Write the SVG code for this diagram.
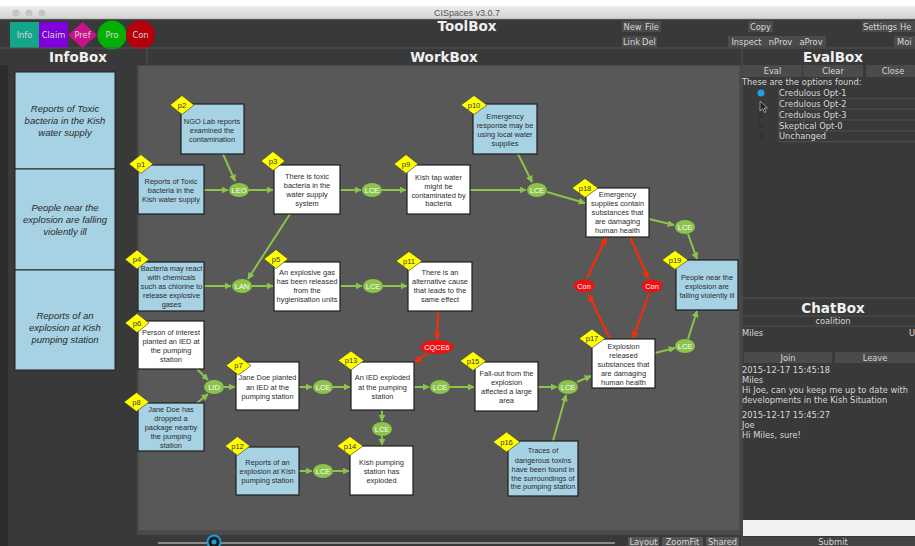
<svg xmlns="http://www.w3.org/2000/svg" width="915" height="546" viewBox="0 0 915 546">
<defs>
<linearGradient id="tb" x1="0" y1="0" x2="0" y2="1"><stop offset="0" stop-color="#ededed"/><stop offset="1" stop-color="#d2d2d2"/></linearGradient>
<marker id="ag" viewBox="0 0 10 10" refX="9" refY="5" markerWidth="7" markerHeight="7" markerUnits="userSpaceOnUse" orient="auto"><path d="M0,0 L10,5 L0,10 z" fill="#8cc34a"/></marker>
<marker id="ar" viewBox="0 0 10 10" refX="9" refY="5" markerWidth="7" markerHeight="7" markerUnits="userSpaceOnUse" orient="auto"><path d="M0,0 L10,5 L0,10 z" fill="#ff2a00"/></marker>
</defs>
<style>
.ui{font-family:"DejaVu Sans",sans-serif;font-size:8.3px;fill:#d8d8d8}
.uic{font-family:"DejaVu Sans",sans-serif;font-size:8.3px;fill:#d8d8d8;text-anchor:middle}
.hdr{font-family:"DejaVu Sans",sans-serif;font-weight:bold;font-size:13.5px;fill:#f0f0f0;text-anchor:middle}
.btn{fill:#4b4b4b}
.info{fill:#a6d2e4;stroke:#1e1e1e;stroke-width:1.2}
.claim{fill:#ffffff;stroke:#1e1e1e;stroke-width:1.2}
.t{font-family:"Liberation Sans",Arial,sans-serif;font-size:7.4px;fill:#2b2b2b;text-anchor:middle}
.tag{fill:#ffff00;stroke:#444;stroke-width:0.7}
.tt{font-family:"Liberation Sans",Arial,sans-serif;font-size:7.6px;fill:#333;text-anchor:middle}
.pro{fill:#8cc34a}
.con{fill:#ee1111}
.et{font-family:"Liberation Sans",Arial,sans-serif;font-size:7.4px;fill:#ffffff;text-anchor:middle}
.g{stroke:#8cc34a;stroke-width:2;fill:none;marker-end:url(#ag)}
.r{stroke:#ff2a00;stroke-width:2;fill:none;marker-end:url(#ar)}
.ib{fill:#a6d2e4;stroke:#222;stroke-width:1}
.it{font-family:"Liberation Sans",Arial,sans-serif;font-style:italic;font-size:9.5px;fill:#2a2a2a;text-anchor:middle}
.opt{fill:none;stroke:#555;stroke-width:0.8}
</style>

<!-- background -->
<rect x="0" y="0" width="915" height="546" fill="#393939"/>
<rect x="0" y="0" width="915" height="6" fill="#ffffff"/>
<rect x="0" y="6" width="915" height="13" fill="url(#tb)"/>
<line x1="0" y1="19" x2="915" y2="19" stroke="#9a9a9a" stroke-width="0.6"/>
<circle cx="16" cy="13" r="3.5" fill="#c4c4c4"/>
<circle cx="29" cy="13" r="3.5" fill="#c4c4c4"/>
<circle cx="42" cy="13" r="3.5" fill="#c4c4c4"/>
<text x="467" y="16" font-family="Liberation Sans, Arial, sans-serif" font-size="9" fill="#555" text-anchor="middle">CISpaces v3.0.7</text>

<!-- palette -->
<g id="palette">
<rect x="10" y="22" width="29" height="26" fill="#14a688"/>
<text x="24.5" y="38" class="uic" fill="#e8f4ee">Info</text>
<rect x="39" y="22" width="29" height="26" fill="#7e00da"/>
<text x="53.5" y="38" class="uic">Claim</text>
<polygon points="68,35 82.5,22 97,35 82.5,48" fill="#c8128a"/>
<text x="82.5" y="38" class="uic">Pref</text>
<circle cx="112" cy="35" r="14.5" fill="#02b002"/>
<text x="112" y="38" class="uic">Pro</text>
<circle cx="140.5" cy="35" r="14.5" fill="#b5000c"/>
<text x="140.5" y="38" class="uic">Con</text>
</g>

<!-- toolbox -->
<text x="467" y="31" class="hdr">ToolBox</text>
<g id="toolbuttons">
<rect x="622" y="21" width="21" height="11" class="btn"/><text x="632.5" y="29.5" class="uic">New</text>
<rect x="643" y="21" width="18" height="11" class="btn"/><text x="652" y="29.5" class="uic">File</text>
<rect x="622" y="36" width="19" height="11" class="btn"/><text x="631.5" y="44.5" class="uic">Link</text>
<rect x="641" y="36" width="16" height="11" class="btn"/><text x="649" y="44.5" class="uic">Del</text>
<rect x="748" y="21" width="25" height="11" class="btn"/><text x="760.5" y="29.5" class="uic">Copy</text>
<rect x="728" y="36" width="37" height="11" class="btn"/><text x="746.5" y="44.5" class="uic">Inspect</text>
<rect x="765" y="36" width="31" height="11" class="btn"/><text x="780.5" y="44.5" class="uic">nProv</text>
<rect x="796" y="36" width="30" height="11" class="btn"/><text x="811" y="44.5" class="uic">aProv</text>
<rect x="862" y="21" width="36" height="11" class="btn"/><text x="880" y="29.5" class="uic">Settings</text>
<rect x="898" y="21" width="17" height="11" class="btn"/><text x="900" y="29.5" class="ui">He</text>
<rect x="894" y="36" width="21" height="11" class="btn"/><text x="897" y="44.5" class="ui">Moi</text>
</g>
<line x1="0" y1="48" x2="915" y2="48" stroke="#555" stroke-width="1"/>
<line x1="147" y1="48" x2="147" y2="65" stroke="#555" stroke-width="1"/>
<line x1="742" y1="48" x2="742" y2="546" stroke="#555" stroke-width="1"/>

<!-- InfoBox -->
<text x="78" y="62" class="hdr">InfoBox</text>
<rect x="0" y="65" width="8" height="481" fill="#2c2c2c"/>
<g id="info1"><rect x="15" y="72" width="100" height="97" class="ib"/>
<text class="it" x="65" y="112">Reports of Toxic</text><text class="it" x="65" y="124">bacteria in the Kish</text><text class="it" x="65" y="136">water supply</text></g>
<g id="info2"><rect x="15" y="169" width="100" height="101" class="ib"/>
<text class="it" x="65" y="211">People near the</text><text class="it" x="65" y="223">explosion are falling</text><text class="it" x="65" y="235">violently ill</text></g>
<g id="info3"><rect x="15" y="270" width="100" height="100" class="ib"/>
<text class="it" x="65" y="319">Reports of an</text><text class="it" x="65" y="331">explosion at Kish</text><text class="it" x="65" y="343">pumping station</text></g>

<!-- WorkBox -->
<text x="444" y="62" class="hdr">WorkBox</text>
<rect x="137" y="65" width="604" height="470" fill="#4a4a4a"/>
<rect x="139" y="66" width="600" height="464" fill="#585858"/>
<line x1="158" y1="543" x2="615" y2="543" stroke="#8a8a8a" stroke-width="2"/>
<circle cx="214" cy="542" r="6.5" fill="#1a1a1a" stroke="#1aa0d8" stroke-width="2"/>
<circle cx="214" cy="542" r="2.5" fill="#1aa0d8"/>
<rect x="628" y="537" width="31" height="9" fill="#555"/><text x="643.5" y="545" class="uic">Layout</text>
<rect x="662" y="537" width="41" height="9" fill="#555"/><text x="682.5" y="545" class="uic">ZoomFit</text>
<rect x="706" y="537" width="33" height="9" fill="#555"/><text x="722.5" y="545" class="uic">Shared</text>

<!-- connectors -->
<g id="connectors">
<line class="g" x1="204" y1="190" x2="228" y2="190"/>
<line class="g" x1="223" y1="154" x2="235" y2="181"/>
<line class="g" x1="249" y1="190" x2="273" y2="190"/>
<line class="g" x1="340" y1="190" x2="361" y2="190"/>
<line class="g" x1="382" y1="190" x2="406" y2="190"/>
<line class="g" x1="470" y1="190" x2="526" y2="190"/>
<line class="g" x1="518" y1="154" x2="532" y2="182"/>
<line class="g" x1="547" y1="192" x2="585" y2="203"/>
<line class="g" x1="649" y1="219" x2="674" y2="225"/>
<line class="g" x1="688" y1="234" x2="697" y2="259"/>
<line class="g" x1="290" y1="214" x2="248" y2="279"/>
<line class="g" x1="204" y1="286" x2="231" y2="286"/>
<line class="g" x1="252" y1="286" x2="273" y2="286"/>
<line class="g" x1="340" y1="286" x2="362" y2="286"/>
<line class="g" x1="383" y1="286" x2="407" y2="286"/>
<line class="r" x1="438" y1="311" x2="437" y2="339"/>
<line class="r" x1="428" y1="353" x2="415" y2="362"/>
<line class="g" x1="197" y1="369" x2="208" y2="380"/>
<line class="g" x1="197" y1="403" x2="208" y2="394"/>
<line class="g" x1="224" y1="387" x2="235" y2="387"/>
<line class="g" x1="299" y1="387" x2="312" y2="387"/>
<line class="g" x1="333" y1="387" x2="350" y2="387"/>
<line class="g" x1="414" y1="387" x2="429" y2="387"/>
<line class="g" x1="450" y1="387" x2="474" y2="387"/>
<line class="g" x1="538" y1="387" x2="557" y2="387"/>
<line class="g" x1="577" y1="382" x2="591" y2="376"/>
<line class="g" x1="553" y1="441" x2="566" y2="395"/>
<line class="g" x1="382" y1="410" x2="382" y2="421"/>
<line class="g" x1="382" y1="436" x2="382" y2="445"/>
<line class="g" x1="299" y1="471" x2="312" y2="471"/>
<line class="g" x1="333" y1="471" x2="349" y2="471"/>
<line class="g" x1="655" y1="353" x2="675" y2="348"/>
<line class="g" x1="688" y1="339" x2="697" y2="311"/>
<line class="r" x1="610" y1="339" x2="589" y2="295"/>
<line class="r" x1="587" y1="278" x2="606" y2="238"/>
<line class="r" x1="630" y1="237" x2="648" y2="278"/>
<line class="r" x1="649" y1="294" x2="633" y2="338"/>
</g>

<!-- inference nodes -->
<g id="LEO"><ellipse cx="239" cy="190" rx="10" ry="7" class="pro"/><text x="239" y="192.7" class="et">LEO</text></g>
<g id="LCE1"><ellipse cx="372" cy="190" rx="10" ry="7" class="pro"/><text x="372" y="192.7" class="et">LCE</text></g>
<g id="LCE2"><ellipse cx="537" cy="190" rx="10" ry="7" class="pro"/><text x="537" y="192.7" class="et">LCE</text></g>
<g id="LCE3"><ellipse cx="685" cy="227" rx="10" ry="7" class="pro"/><text x="685" y="229.7" class="et">LCE</text></g>
<g id="LAN"><ellipse cx="242" cy="286" rx="10" ry="7" class="pro"/><text x="242" y="288.7" class="et">LAN</text></g>
<g id="LCE4"><ellipse cx="373" cy="286" rx="10" ry="7" class="pro"/><text x="373" y="288.7" class="et">LCE</text></g>
<g id="LID"><ellipse cx="214" cy="387" rx="10" ry="7" class="pro"/><text x="214" y="389.7" class="et">LID</text></g>
<g id="LCE5"><ellipse cx="323" cy="387" rx="10" ry="7" class="pro"/><text x="323" y="389.7" class="et">LCE</text></g>
<g id="LCE6"><ellipse cx="440" cy="387" rx="10" ry="7" class="pro"/><text x="440" y="389.7" class="et">LCE</text></g>
<g id="LCE7"><ellipse cx="568" cy="387" rx="10" ry="7" class="pro"/><text x="568" y="389.7" class="et">LCE</text></g>
<g id="LCE8"><ellipse cx="685" cy="346" rx="10" ry="7" class="pro"/><text x="685" y="348.7" class="et">LCE</text></g>
<g id="LCE9"><ellipse cx="382" cy="429" rx="10" ry="7" class="pro"/><text x="382" y="431.7" class="et">LCE</text></g>
<g id="LCE10"><ellipse cx="323" cy="471" rx="10" ry="7" class="pro"/><text x="323" y="473.7" class="et">LCE</text></g>
<g id="Con1"><ellipse cx="584" cy="286" rx="10.5" ry="6.5" class="con"/><text x="584" y="288.7" class="et">Con</text></g>
<g id="Con2"><ellipse cx="652" cy="286" rx="10.5" ry="6.5" class="con"/><text x="652" y="288.7" class="et">Con</text></g>
<g id="CQCE6"><ellipse cx="437" cy="347" rx="16.5" ry="7" class="con"/><text x="437" y="349.7" class="et">CQCE6</text></g>

<!-- proposition nodes -->
<g id="p1"><rect x="138" y="165" width="66" height="49" class="info"/>
<text class="t" x="171" y="183.5">Reports of Toxic</text><text class="t" x="171" y="192.5">bacteria in the</text><text class="t" x="171" y="201.5">Kish water supply</text>
<polygon class="tag" points="129,164 141,154.5 153,164 141,173.5"/><text class="tt" x="141" y="166.7">p1</text></g>

<g id="p2"><rect x="181" y="104" width="63" height="50" class="info"/>
<text class="t" x="212" y="124">NGO Lab reports</text><text class="t" x="212" y="133">examined the</text><text class="t" x="212" y="142">contamination</text>
<polygon class="tag" points="170,105 182,95.5 194,105 182,114.5"/><text class="tt" x="182" y="107.7">p2</text></g>

<g id="p3"><rect x="274" y="165" width="66" height="49" class="claim"/>
<text class="t" x="307" y="179">There is toxic</text><text class="t" x="307" y="188">bacteria in the</text><text class="t" x="307" y="197">water supply</text><text class="t" x="307" y="206">system</text>
<polygon class="tag" points="261,161 273,151.5 285,161 273,170.5"/><text class="tt" x="273" y="163.7">p3</text></g>

<g id="p9"><rect x="407" y="165" width="63" height="49" class="claim"/>
<text class="t" x="438.5" y="179.5">Kish tap water</text><text class="t" x="438.5" y="188.5">might be</text><text class="t" x="438.5" y="197.5">contaminated by</text><text class="t" x="438.5" y="205.5">bacteria</text>
<polygon class="tag" points="394,164 406,154.5 418,164 406,173.5"/><text class="tt" x="406" y="166.7">p9</text></g>

<g id="p10"><rect x="473" y="104" width="64" height="50" class="info"/>
<text class="t" x="505" y="119">Emergency</text><text class="t" x="505" y="128">response may be</text><text class="t" x="505" y="137">using local water</text><text class="t" x="505" y="146">supplies</text>
<polygon class="tag" points="461,105 474,95.5 487,105 474,114.5"/><text class="tt" x="474" y="107.7">p10</text></g>

<g id="p18"><rect x="586" y="188" width="63" height="49" class="claim"/>
<text class="t" x="617.5" y="197">Emergency</text><text class="t" x="617.5" y="206">supplies  contain</text><text class="t" x="617.5" y="215">substances that</text><text class="t" x="617.5" y="224">are damaging</text><text class="t" x="617.5" y="232.5">human health</text>
<polygon class="tag" points="572,188 585,178.5 598,188 585,197.5"/><text class="tt" x="585" y="190.7">p18</text></g>

<g id="p19"><rect x="676" y="260" width="62" height="50" class="info"/>
<text class="t" x="707" y="280">People near the</text><text class="t" x="707" y="289">explosion are</text><text class="t" x="707" y="298">falling violently ill</text>
<polygon class="tag" points="662,260 675,250.5 688,260 675,269.5"/><text class="tt" x="675" y="262.7">p19</text></g>

<g id="p4"><rect x="138" y="262" width="66" height="49" class="info"/>
<text class="t" x="171.5" y="271">Bacteria may react</text><text class="t" x="171.5" y="280">with chemicals</text><text class="t" x="171.5" y="289">such as chlorine to</text><text class="t" x="171.5" y="298">release explosive</text><text class="t" x="171.5" y="307">gases</text>
<polygon class="tag" points="125,259.5 137,250 149,259.5 137,269"/><text class="tt" x="137" y="262.2">p4</text></g>

<g id="p5"><rect x="274" y="262" width="66" height="49" class="claim"/>
<text class="t" x="307" y="275">An explosive gas</text><text class="t" x="307" y="284">has been released</text><text class="t" x="307" y="293">from the</text><text class="t" x="307" y="302">hygienisation units</text>
<polygon class="tag" points="264,259 276,249.5 288,259 276,268.5"/><text class="tt" x="276" y="261.7">p5</text></g>

<g id="p11"><rect x="408" y="262" width="64" height="49" class="claim"/>
<text class="t" x="440" y="275">There is an</text><text class="t" x="440" y="284">alternative cause</text><text class="t" x="440" y="293">that leads to the</text><text class="t" x="440" y="302">same effect</text>
<polygon class="tag" points="396,261 409,251.5 422,261 409,270.5"/><text class="tt" x="409" y="263.7">p11</text></g>

<g id="p6"><rect x="138" y="321" width="66" height="48" class="claim"/>
<text class="t" x="171" y="335">Person of interest</text><text class="t" x="171" y="344">planted an IED at</text><text class="t" x="171" y="353">the pumping</text><text class="t" x="171" y="362">station</text>
<polygon class="tag" points="125,323 137,313.5 149,323 137,332.5"/><text class="tt" x="137" y="325.7">p6</text></g>

<g id="p7"><rect x="236" y="362" width="63" height="48" class="claim"/>
<text class="t" x="267.5" y="380">Jane Doe planted</text><text class="t" x="267.5" y="390">an IED at the</text><text class="t" x="267.5" y="399">pumping station</text>
<polygon class="tag" points="226,365.5 238.5,356 251,365.5 238.5,375"/><text class="tt" x="238.5" y="368.2">p7</text></g>

<g id="p13"><rect x="351" y="362" width="63" height="48" class="claim"/>
<text class="t" x="382.5" y="380">An IED exploded</text><text class="t" x="382.5" y="390">at the pumping</text><text class="t" x="382.5" y="399">station</text>
<polygon class="tag" points="338,360.5 351,351 364,360.5 351,370"/><text class="tt" x="351" y="363.2">p13</text></g>

<g id="p15"><rect x="475" y="362" width="63" height="49" class="claim"/>
<text class="t" x="506.5" y="376">Fall-out from the</text><text class="t" x="506.5" y="385">explosion</text><text class="t" x="506.5" y="394">affected a large</text><text class="t" x="506.5" y="403">area</text>
<polygon class="tag" points="460,361 473,351.5 486,361 473,370.5"/><text class="tt" x="473" y="363.7">p15</text></g>

<g id="p17"><rect x="592" y="339" width="63" height="49" class="claim"/>
<text class="t" x="623.5" y="349">Explosion</text><text class="t" x="623.5" y="358">released</text><text class="t" x="623.5" y="367">substances that</text><text class="t" x="623.5" y="376">are damaging</text><text class="t" x="623.5" y="384.5">human health</text>
<polygon class="tag" points="579,338.5 592,329 605,338.5 592,348"/><text class="tt" x="592" y="341.2">p17</text></g>

<g id="p8"><rect x="138" y="403" width="66" height="48" class="info"/>
<text class="t" x="171" y="412">Jane Doe has</text><text class="t" x="171" y="421">dropped a</text><text class="t" x="171" y="430">package nearby</text><text class="t" x="171" y="439">the pumping</text><text class="t" x="171" y="448">station</text>
<polygon class="tag" points="124,402 136.5,392.5 149,402 136.5,411.5"/><text class="tt" x="136.5" y="404.7">p8</text></g>

<g id="p12"><rect x="236" y="447" width="63" height="48" class="info"/>
<text class="t" x="267.5" y="465">Reports of an</text><text class="t" x="267.5" y="474">explosion at Kish</text><text class="t" x="267.5" y="483">pumping station</text>
<polygon class="tag" points="225,446 237.5,436.5 250,446 237.5,455.5"/><text class="tt" x="237.5" y="448.7">p12</text></g>

<g id="p14"><rect x="350" y="446" width="63" height="49" class="claim"/>
<text class="t" x="381.5" y="465">Kish pumping</text><text class="t" x="381.5" y="474">station has</text><text class="t" x="381.5" y="483">exploded</text>
<polygon class="tag" points="337,446 350,436.5 363,446 350,455.5"/><text class="tt" x="350" y="448.7">p14</text></g>

<g id="p16"><rect x="508" y="441" width="70" height="55" class="info"/>
<text class="t" x="543" y="453">Traces of</text><text class="t" x="543" y="462.5">dangerous toxins</text><text class="t" x="543" y="471.5">have been found in</text><text class="t" x="543" y="480.5">the surroundings of</text><text class="t" x="543" y="489">the pumping station</text>
<polygon class="tag" points="493,442 506.5,432 520,442 506.5,452"/><text class="tt" x="506.5" y="444.7">p16</text></g>

<!-- EvalBox -->
<g id="evalbox">
<text x="833" y="62" class="hdr">EvalBox</text>
<rect x="743" y="65" width="59" height="12" class="btn"/><text x="772.5" y="74" class="uic">Eval</text>
<rect x="803" y="65" width="60" height="12" class="btn"/><text x="833" y="74" class="uic">Clear</text>
<rect x="866" y="65" width="49" height="12" class="btn"/><text x="893" y="74" class="uic">Close</text>
<text x="742" y="85" class="ui">These are the options found:</text>
<circle cx="761" cy="93" r="3.5" fill="#1ea0e8"/>
<circle cx="761" cy="104" r="4" fill="#333" stroke="#3c3c3c"/>
<circle cx="761" cy="115" r="4" fill="#333" stroke="#3c3c3c"/>
<circle cx="761" cy="125.5" r="4" fill="#333" stroke="#3c3c3c"/>
<circle cx="761" cy="136" r="4" fill="#333" stroke="#3c3c3c"/>
<path class="opt" d="M779,88 V142 M779,98.3 H915 M779,109 H915 M779,120 H915 M779,131 H915 M779,141.7 H915"/>
<text x="779" y="96" class="ui">Credulous Opt-1</text>
<text x="779" y="107" class="ui">Credulous Opt-2</text>
<text x="779" y="117.7" class="ui">Credulous Opt-3</text>
<text x="779" y="128.5" class="ui">Skeptical Opt-0</text>
<text x="779" y="139" class="ui">Unchanged</text>
<path d="M760,101 L760,111 L762.5,108.5 L764.5,112.5 L766,111.8 L764.2,108 L767.5,108 Z" fill="#222" stroke="#ddd" stroke-width="0.6"/>
</g>

<!-- ChatBox -->
<g id="chatbox">
<line x1="742" y1="298" x2="915" y2="298" stroke="#555" stroke-width="1"/>
<text x="833" y="313" class="hdr">ChatBox</text>
<line x1="742" y1="316" x2="915" y2="316" stroke="#555" stroke-width="0.8"/>
<text x="833" y="324" class="uic">coalition</text>
<line x1="742" y1="326" x2="915" y2="326" stroke="#555" stroke-width="0.8"/>
<text x="742" y="336" class="ui">Miles</text>
<text x="909" y="336" class="ui">U</text>
<rect x="744" y="352" width="88" height="11" class="btn"/><text x="788" y="360.5" class="uic">Join</text>
<rect x="835" y="352" width="80" height="11" class="btn"/><text x="875" y="360.5" class="uic">Leave</text>
<text x="742" y="373" class="ui">2015-12-17 15:45:18</text>
<text x="742" y="383" class="ui">Miles</text>
<text x="742" y="393" class="ui">Hi Joe, can you keep me up to date with</text>
<text x="742" y="403" class="ui">developments in the Kish Situation</text>
<text x="742" y="418" class="ui">2015-12-17 15:45:27</text>
<text x="742" y="428" class="ui">Joe</text>
<text x="742" y="438" class="ui">Hi Miles, sure!</text>
<rect x="743" y="520" width="172" height="16" fill="#f2f2f2"/>
<rect x="743" y="537" width="172" height="9" fill="#444"/>
<text x="833" y="545" class="uic">Submit</text>
</g>
</svg>
